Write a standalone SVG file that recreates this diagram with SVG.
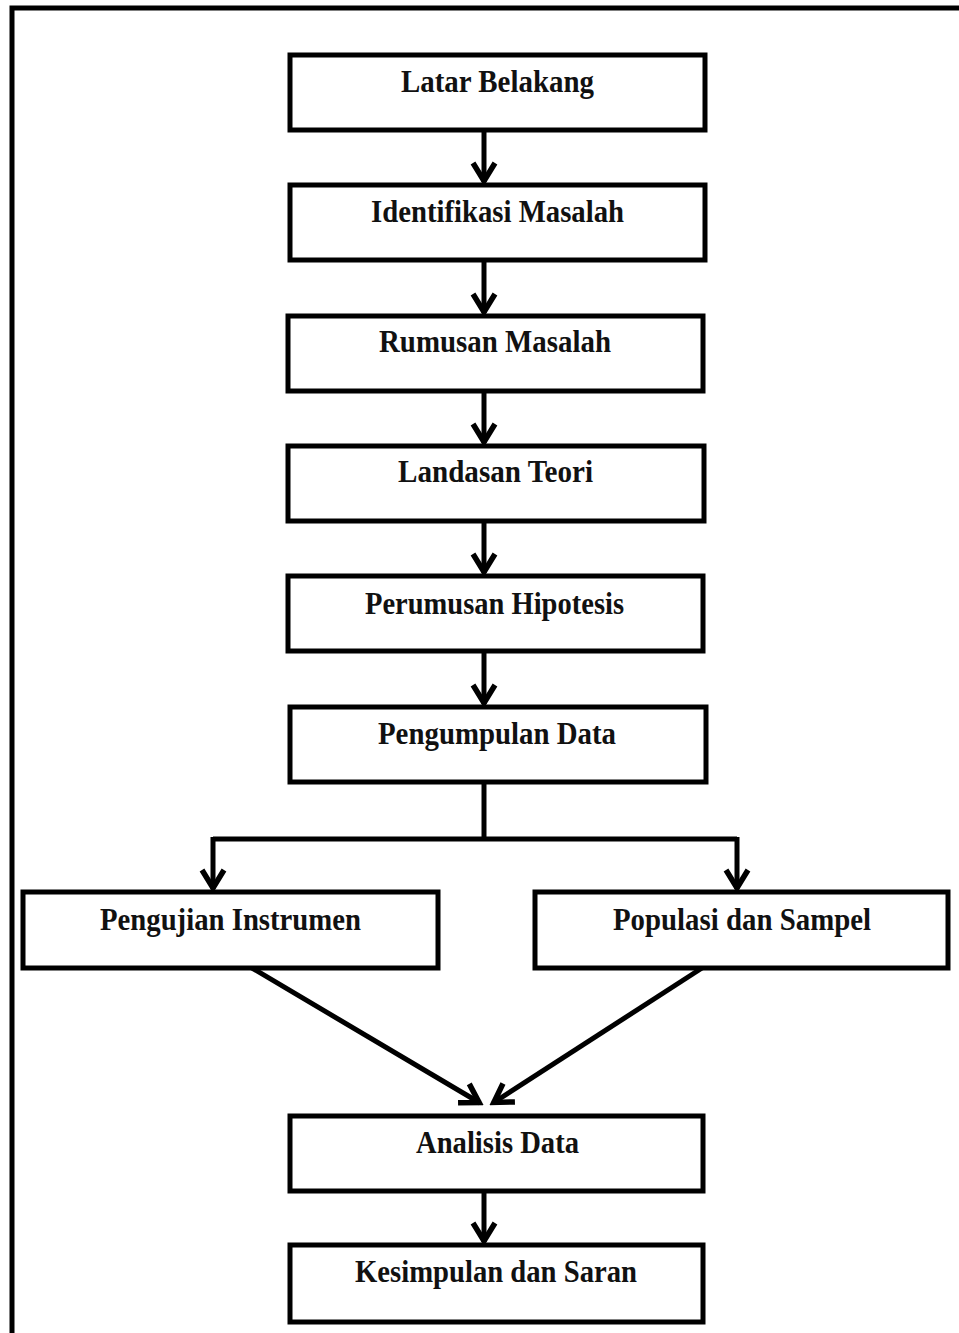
<svg xmlns="http://www.w3.org/2000/svg" width="959" height="1333" viewBox="0 0 959 1333">
<style>
.box{fill:#fff;stroke:#000;stroke-width:5}
.lbl{font-family:"Liberation Serif","Times New Roman",serif;font-weight:bold;font-size:31px;fill:#111;text-anchor:middle}
.con{fill:none;stroke:#000;stroke-width:5}
</style>
<defs>
<marker id="arr" markerUnits="userSpaceOnUse" viewBox="-26 -16 30 32" markerWidth="30" markerHeight="32" refX="0" refY="0" orient="auto">
<path d="M-19,-11 L-1,0 L-19,11" fill="none" stroke="#000" stroke-width="5.5"/>
</marker>
</defs>
<rect x="0" y="0" width="959" height="1333" fill="#fff"/>
<path d="M12,1333 V8 H959" fill="none" stroke="#000" stroke-width="5"/>
<g id="connectors">
<line class="con" x1="484" y1="131" x2="484" y2="182" marker-end="url(#arr)"/>
<line class="con" x1="484" y1="261" x2="484" y2="313" marker-end="url(#arr)"/>
<line class="con" x1="484" y1="393" x2="484" y2="443" marker-end="url(#arr)"/>
<line class="con" x1="484" y1="523" x2="484" y2="573" marker-end="url(#arr)"/>
<line class="con" x1="484" y1="653" x2="484" y2="704" marker-end="url(#arr)"/>
<path class="con" d="M484,784 V839"/>
<path class="con" d="M213,839 H737"/>
<line class="con" x1="213" y1="837" x2="213" y2="889" marker-end="url(#arr)"/>
<line class="con" x1="737" y1="837" x2="737" y2="889" marker-end="url(#arr)"/>
<line class="con" x1="252" y1="968" x2="480" y2="1103" marker-end="url(#arr)"/>
<line class="con" x1="702" y1="968" x2="493" y2="1103" marker-end="url(#arr)"/>
<line class="con" x1="484" y1="1192" x2="484" y2="1242" marker-end="url(#arr)"/>
</g>
<g id="n1"><rect class="box" x="290" y="55" width="415" height="75"/><text class="lbl" x="497.5" y="92" textLength="193" lengthAdjust="spacingAndGlyphs">Latar Belakang</text></g>
<g id="n2"><rect class="box" x="290" y="185" width="415" height="75"/><text class="lbl" x="497.5" y="222" textLength="253" lengthAdjust="spacingAndGlyphs">Identifikasi Masalah</text></g>
<g id="n3"><rect class="box" x="288" y="316" width="415" height="75"/><text class="lbl" x="495" y="352" textLength="232" lengthAdjust="spacingAndGlyphs">Rumusan Masalah</text></g>
<g id="n4"><rect class="box" x="288" y="446" width="416" height="75"/><text class="lbl" x="495.5" y="482" textLength="195" lengthAdjust="spacingAndGlyphs">Landasan Teori</text></g>
<g id="n5"><rect class="box" x="288" y="576" width="415" height="75"/><text class="lbl" x="494.5" y="614" textLength="259" lengthAdjust="spacingAndGlyphs">Perumusan Hipotesis</text></g>
<g id="n6"><rect class="box" x="290" y="707" width="416" height="75"/><text class="lbl" x="497" y="744" textLength="238" lengthAdjust="spacingAndGlyphs">Pengumpulan Data</text></g>
<g id="n7"><rect class="box" x="23" y="892" width="415" height="76"/><text class="lbl" x="230.5" y="930" textLength="261" lengthAdjust="spacingAndGlyphs">Pengujian Instrumen</text></g>
<g id="n8"><rect class="box" x="535" y="892" width="413" height="76"/><text class="lbl" x="742" y="930" textLength="258" lengthAdjust="spacingAndGlyphs">Populasi dan Sampel</text></g>
<g id="n9"><rect class="box" x="290" y="1116" width="413" height="75"/><text class="lbl" x="497.5" y="1153" textLength="163" lengthAdjust="spacingAndGlyphs">Analisis Data</text></g>
<g id="n10"><rect class="box" x="290" y="1245" width="413" height="77"/><text class="lbl" x="496" y="1282" textLength="282" lengthAdjust="spacingAndGlyphs">Kesimpulan dan Saran</text></g>
</svg>
